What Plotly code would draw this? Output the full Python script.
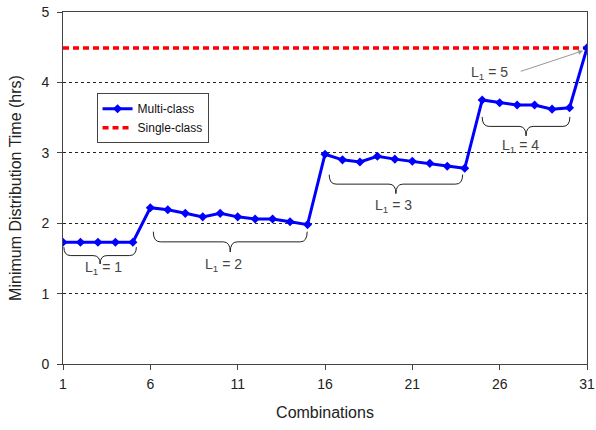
import plotly.graph_objects as go

combinations = list(range(1, 32))
multi_class = [1.73, 1.73, 1.73, 1.73, 1.73,
               2.22, 2.19, 2.14, 2.09, 2.14, 2.09, 2.06, 2.06, 2.02, 1.98,
               2.98, 2.90, 2.87, 2.95, 2.91, 2.88, 2.85, 2.81, 2.78,
               3.75, 3.71, 3.68, 3.68, 3.62, 3.64,
               4.49]
single_class_value = 4.49
single_class = [single_class_value for _ in combinations]

x_ticks = [1, 6, 11, 16, 21, 26, 31]
y_ticks = [0, 1, 2, 3, 4, 5]

# brace groups: (x_start, x_end, y_top, y_tip, label, label_x, label_y)
groups = [
    (1.05, 5.2, 1.66, 1.42, "L<sub>1</sub> = 1", 3.3, 1.36),
    (6.17, 14.98, 1.88, 1.59, "L<sub>1</sub> = 2", 10.2, 1.40),
    (16.24, 23.88, 2.69, 2.42, "L<sub>1</sub> = 3", 19.9, 2.24),
    (25.0, 30.02, 3.51, 3.24, "L<sub>1</sub> = 4", 27.2, 3.09),
]


def brace_path(x0, x1, yt, ytip):
    xm = (x0 + x1) / 2
    ym = (yt + ytip) / 2
    d = 0.4
    return (f"M {x0} {yt} Q {x0} {ym} {x0 + d} {ym} "
            f"L {xm - d} {ym} Q {xm} {ym} {xm} {ytip} "
            f"Q {xm} {ym} {xm + d} {ym} "
            f"L {x1 - d} {ym} Q {x1} {ym} {x1} {yt}")


fig = go.Figure()
fig.add_trace(go.Scatter(
    x=combinations, y=single_class, mode="lines", name="Single-class",
    line=dict(color="#FF0000", width=3.5, dash="6px,4px")))
fig.add_trace(go.Scatter(
    x=combinations, y=multi_class, mode="lines+markers", name="Multi-class",
    line=dict(color="#0000FF", width=3),
    marker=dict(symbol="diamond", size=7, color="#0000FF")))

shapes = []
annotations = []
for x0, x1, yt, ytip, label, lx, ly in groups:
    shapes.append(dict(type="path", xref="x", yref="y",
                       path=brace_path(x0, x1, yt, ytip),
                       line=dict(color="#222222", width=1)))
    annotations.append(dict(x=lx, y=ly, xref="x", yref="y", text=label,
                            showarrow=False,
                            font=dict(size=14, color="#444444",
                                      family="Liberation Sans, Arial")))

annotations.append(dict(x=30.78, y=4.45, ax=27.12, ay=4.15,
                        xref="x", yref="y", axref="x", ayref="y",
                        text="", showarrow=True, arrowhead=2, arrowsize=1,
                        arrowwidth=1, arrowcolor="#999999"))
annotations.append(dict(x=25.44, y=4.14, xref="x", yref="y",
                        text="L<sub>1</sub> = 5", showarrow=False,
                        font=dict(size=14, color="#444444",
                                  family="Liberation Sans, Arial")))

fig.update_layout(
    width=596, height=430,
    margin=dict(l=63, r=9, t=12, b=66, autoexpand=False),
    paper_bgcolor="white", plot_bgcolor="white",
    font=dict(family="Liberation Sans, Arial", size=14, color="#222222"),
    shapes=shapes, annotations=annotations,
    legend=dict(x=0.064, y=0.769, xanchor="left", yanchor="top",
                bgcolor="white", bordercolor="#444444", borderwidth=1,
                font=dict(size=12, color="#111111"),
                traceorder="reversed", tracegroupgap=0),
    showlegend=True,
)
fig.update_xaxes(range=[1, 31], tickvals=x_ticks, ticktext=[str(v) for v in x_ticks],
                 showgrid=False, zeroline=False, automargin=False,
                 showline=True, linecolor="#444444", linewidth=1, mirror=True,
                 ticks="outside", ticklen=5, tickcolor="#444444",
                 ticklabelstandoff=2,
                 title=dict(text="Combinations", font=dict(size=16), standoff=16),
                 tickfont=dict(size=14))
fig.update_yaxes(range=[0, 5], tickvals=y_ticks,
                 showgrid=True, gridcolor="#222222", griddash="3px,3px", gridwidth=0.8,
                 zeroline=False, automargin=False,
                 showline=True, linecolor="#444444", linewidth=1, mirror=True,
                 ticks="outside", ticklen=5, tickcolor="#444444",
                 ticklabelstandoff=5,
                 title=dict(text="Minimum Distribution Time (hrs)", font=dict(size=16),
                            standoff=15),
                 tickfont=dict(size=14))

fig.write_html("out.html", config={"displayModeBar": False},
               post_script="document.body.style.margin='0';document.body.style.padding='0';")
